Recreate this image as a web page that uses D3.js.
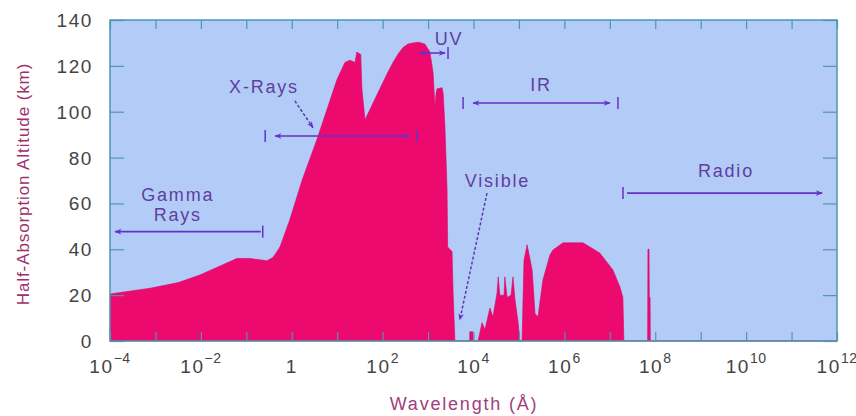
<!DOCTYPE html>
<html>
<head>
<meta charset="utf-8">
<script src="https://cdn.jsdelivr.net/npm/d3@7/dist/d3.min.js"></script>
<style>
body { margin: 0; background: #fff; }
text { font-family: "Liberation Sans", Arial, sans-serif; }
</style>
</head>
<body>
<div id="chart"></div>
<script>
// wavelength in Angstrom, half-absorption altitude in km
const wavelength = [1e-4, 7.6e-4, 3.2e-3, 9.5e-3, 0.062, 0.12, 0.285, 0.39, 0.55, 0.91, 1.68, 3.6, 9.9, 14.8, 19.1, 24.6, 26, 27, 33, 35, 41,
  87, 125, 169, 225, 282, 360, 466, 620, 850, 1100, 1290, 1420, 1500, 1580, 2030, 2150, 2350, 2620, 2700, 3370, 3560, 3900,
  8200, 8300, 9700, 9800, 12600, 15400, 17900, 23000, 26800, 33000, 35000, 38000, 47000, 49000, 55000, 67000, 74000, 82000, 96000, 105000,
  117000, 129000, 151000, 166000, 195000, 226000, 262000, 337000, 483000, 560000, 930000, 2.57e6, 6.0e6, 1.17e7, 1.67e7, 1.94e7, 2.04e7,
  6.8e7, 6.9e7, 7.3e7, 7.4e7, 7.7e7, 7.8e7, 1e12];
const altitude = [20.5, 23, 25.5, 28.8, 36, 36, 35, 36.5, 41, 53, 70, 88, 114, 121.5, 122.5, 121.5, 124, 126, 125, 110, 96.5,
  110, 116.5, 121.5, 125.5, 128, 129.5, 130, 130.3, 129.5, 126, 117, 102, 108, 110, 110.5, 108, 93.5, 66, 41, 39, 21, 0,
  0, 4, 4, 0, 0, 8, 5, 14.4, 10.5, 21, 28, 20, 20, 28, 19, 20, 28, 18, 8, 0,
  0, 35, 42, 38, 31, 12, 10.5, 26.6, 37.6, 39.7, 42.8, 42.8, 38.4, 31, 23.6, 19, 0,
  0, 40, 40, 19, 19, 0, 0];

const xTickValues = [1e-4, 1e-3, 1e-2, 1e-1, 1, 1e1, 1e2, 1e3, 1e4, 1e5, 1e6, 1e7, 1e8, 1e9, 1e10, 1e11, 1e12];
const xLabelValues = [1e-4, 1e-2, 1, 1e2, 1e4, 1e6, 1e8, 1e10, 1e12];
const xLabelPowers = ['\u22124', '\u22122', '', '2', '4', '6', '8', '10', '12'];
const yTickValues = [0, 20, 40, 60, 80, 100, 120, 140];

// spectral bands: range arrows
const bandNames = ['Gamma', 'X-Rays', 'UV', 'IR', 'Radio'];
const bandFrom = [1.3e-4, 0.26, 390, 5900, 1.95e7];
const bandTo = [0.23, 575, 2750, 1.51e7, 4.7e11];
const bandAlt = [47.7, 89.4, 125.6, 103.8, 64.5];

const width = 856, height = 416;
const purple = '#6630c8', labelPurple = '#5f3ea0', frameColor = '#4d97ae';

const svg = d3.select('#chart')
              .append('svg')
              .attr('width', width)
              .attr('height', height);

const x = d3.scaleLog().domain([1e-4, 1e12]).range([110, 837]);
const y = d3.scaleLinear().domain([0, 140]).range([341, 20]);

const defs = svg.append('defs');
defs.append('marker')
    .attr('id', 'head')
    .attr('viewBox', '0 0 10 10')
    .attr('refX', 9).attr('refY', 5)
    .attr('markerWidth', 9).attr('markerHeight', 7)
    .attr('markerUnits', 'userSpaceOnUse')
    .attr('orient', 'auto-start-reverse')
    .append('path')
    .attr('d', 'M0,1 L10,5 L0,9 L3,5 Z')
    .style('fill', purple);

// plot background
svg.append('rect')
   .attr('x', x(1e-4)).attr('y', y(140))
   .attr('width', x(1e12) - x(1e-4)).attr('height', y(0) - y(140))
   .style('fill', '#b3cbf7');

const pts = wavelength.map((w, i) => ({w: w, a: altitude[i]}));

const area = d3.area()
               .x(d => x(d.w))
               .y0(y(0))
               .y1(d => y(d.a));

svg.append('path')
   .datum(pts)
   .attr('d', area)
   .style('fill', '#ec0a6e')
   .style('stroke', '#d8086a')
   .style('stroke-width', 0.6);

// inside ticks on all four sides
const tickStyle = g => {
  g.select('.domain').remove();
  g.selectAll('line').style('stroke', frameColor).style('stroke-width', 1.2);
};
svg.append('g').attr('transform', 'translate(0,' + y(0) + ')')
   .call(d3.axisBottom(x).tickValues(xTickValues).tickSize(-9).tickFormat(''))
   .call(tickStyle);
svg.append('g').attr('transform', 'translate(0,' + y(140) + ')')
   .call(d3.axisTop(x).tickValues(xTickValues).tickSize(-9).tickFormat(''))
   .call(tickStyle);
svg.append('g').attr('transform', 'translate(' + x(1e-4) + ',0)')
   .call(d3.axisLeft(y).tickValues(yTickValues).tickSize(-14).tickFormat(''))
   .call(tickStyle);
svg.append('g').attr('transform', 'translate(' + x(1e12) + ',0)')
   .call(d3.axisRight(y).tickValues(yTickValues).tickSize(-14).tickFormat(''))
   .call(tickStyle);

svg.append('rect')
   .attr('x', x(1e-4)).attr('y', y(140))
   .attr('width', x(1e12) - x(1e-4)).attr('height', y(0) - y(140))
   .style('fill', 'none')
   .style('stroke', frameColor)
   .style('stroke-width', 1.5);

// y tick labels
svg.selectAll('.ylab')
   .data(yTickValues)
   .enter()
   .append('text')
   .attr('class', 'ylab')
   .attr('x', 93)
   .attr('y', d => y(d) + 7)
   .style('text-anchor', 'end')
   .style('font-size', '19px')
   .style('letter-spacing', '1.6px')
   .style('fill', '#444')
   .text(d => d);

// x tick labels with superscripts
const xl = svg.selectAll('.xlab')
   .data(xLabelValues)
   .enter()
   .append('text')
   .attr('class', 'xlab')
   .attr('x', d => x(d))
   .attr('y', 373)
   .style('text-anchor', 'middle')
   .style('font-size', '19px')
   .style('letter-spacing', '1.6px')
   .style('fill', '#444');
xl.append('tspan').text((d, i) => xLabelPowers[i] === '' ? '1' : '10');
xl.append('tspan')
  .attr('dy', -10)
  .style('font-size', '14px')
  .style('letter-spacing', '0.5px')
  .text((d, i) => xLabelPowers[i]);

// axis titles
svg.append('text')
   .attr('transform', 'translate(29,184) rotate(-90)')
   .style('text-anchor', 'middle')
   .style('font-size', '17px')
   .style('letter-spacing', '0.9px')
   .style('fill', '#9c2f6c')
   .text('Half-Absorption Altitude (km)');

svg.append('text')
   .attr('x', 464).attr('y', 410)
   .style('text-anchor', 'middle')
   .style('font-size', '18px')
   .style('letter-spacing', '1.8px')
   .style('fill', '#a0407e')
   .text('Wavelength (\u00c5)');

// band arrows
bandNames.forEach((name, i) => {
  const yy = y(bandAlt[i]);
  const x0 = x(bandFrom[i]), x1 = x(bandTo[i]);
  let line = svg.append('line')
     .attr('x1', x0).attr('y1', yy)
     .attr('x2', x1).attr('y2', yy)
     .style('stroke', purple)
     .style('stroke-width', 1.6);
  if (name == 'Gamma') {
    line.attr('marker-start', 'url(#head)');
    line.attr('x2', x1 - 2);
  } else if (name == 'Radio') {
    line.attr('marker-end', 'url(#head)');
    line.attr('x1', x0 + 4);
  } else {
    line.attr('marker-start', 'url(#head)').attr('marker-end', 'url(#head)');
    line.attr('x1', x0 + 10).attr('x2', x1 - (name == 'UV' ? 3 : 8));
  }
  // end bars
  const bars = name == 'Gamma' ? [x1] : name == 'Radio' ? [x0] : name == 'UV' ? [x1] : [x0, x1];
  bars.forEach(bx => {
    svg.append('line')
       .attr('x1', bx).attr('x2', bx)
       .attr('y1', yy - 6).attr('y2', yy + 6)
       .style('stroke', purple)
       .style('stroke-width', 1.5);
  });
});

// dashed pointers for X-Rays and Visible
const pointers = [
  {from: [1.17, 104.7], to: [2.93, 93]},
  {from: [19800, 64.5], to: [5000, 9.2]}
];
pointers.forEach(p => {
  svg.append('line')
     .attr('x1', x(p.from[0])).attr('y1', y(p.from[1]))
     .attr('x2', x(p.to[0])).attr('y2', y(p.to[1]))
     .style('stroke', '#5a3aa8')
     .style('stroke-width', 1.5)
     .attr('stroke-dasharray', '3 2')
     .attr('marker-end', 'url(#head)');
});

// band labels
const labels = [
  {t: 'Gamma', w: 0.0031, a: 61},
  {t: 'Rays', w: 0.0031, a: 52.4},
  {t: 'X-Rays', w: 0.245, a: 108},
  {t: 'UV', w: 2900, a: 129},
  {t: 'IR', w: 305000, a: 109},
  {t: 'Visible', w: 33600, a: 67.2},
  {t: 'Radio', w: 3.6e9, a: 71.5}
];
svg.selectAll('.blab')
   .data(labels)
   .enter()
   .append('text')
   .attr('class', 'blab')
   .attr('x', d => x(d.w))
   .attr('y', d => y(d.a))
   .style('text-anchor', 'middle')
   .style('font-size', '18px')
   .style('letter-spacing', '1.8px')
   .style('fill', labelPurple)
   .text(d => d.t);
</script>
</body>
</html>
